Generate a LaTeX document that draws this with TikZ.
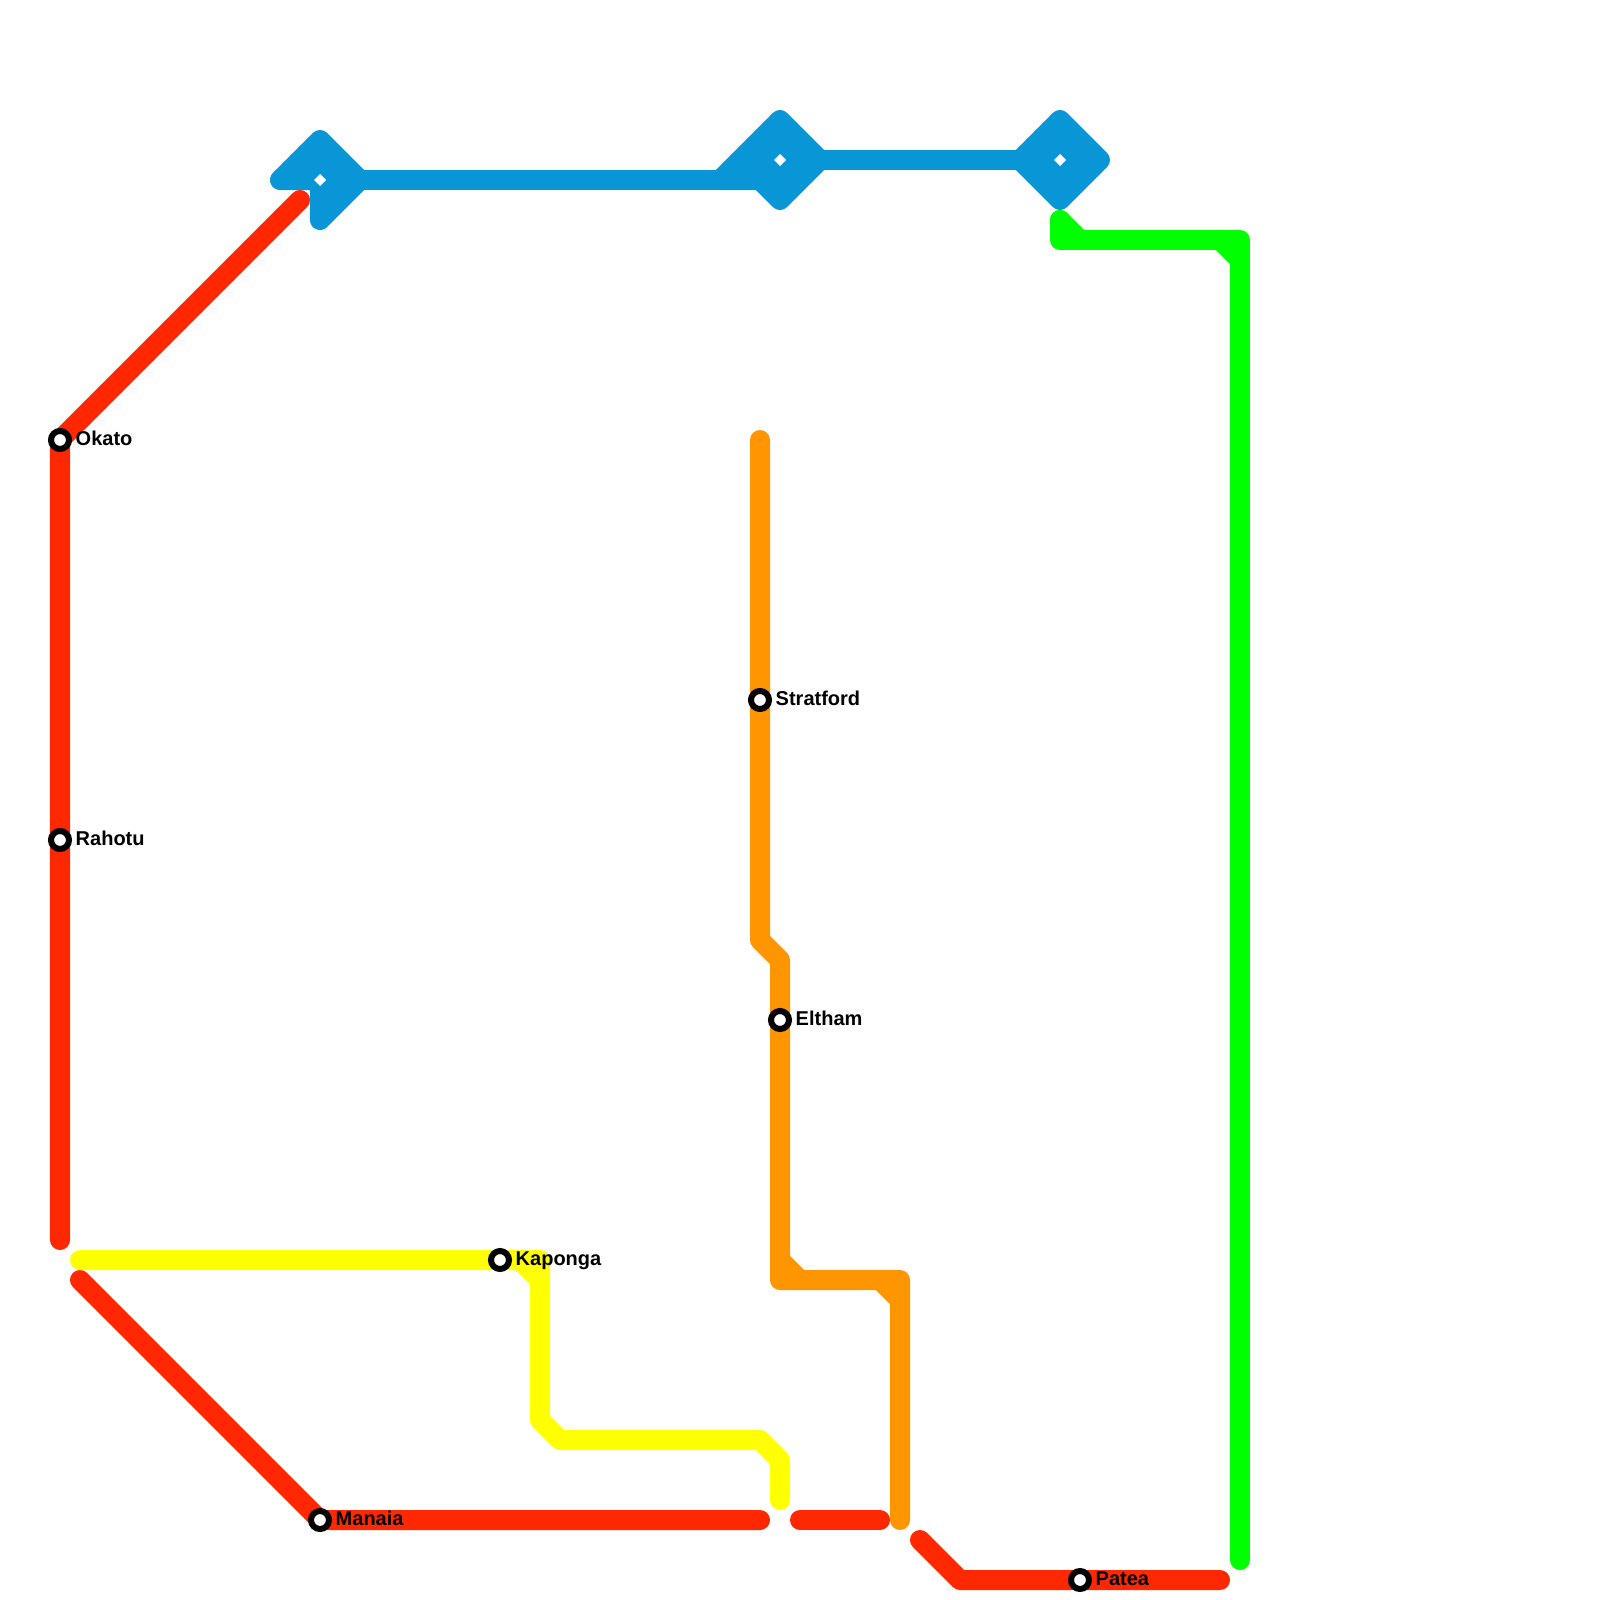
\documentclass[tikz,border=0pt]{standalone}
\usepackage{fontspec}
\setmainfont{Liberation Sans}
\definecolor{lblue}{HTML}{0896D7}
\definecolor{lred}{HTML}{FF2800}
\definecolor{lorange}{HTML}{FF9500}
\definecolor{lyellow}{HTML}{FFFF00}
\definecolor{lgreen}{HTML}{00FF00}
\tikzset{
  metro/.style={line width=5.69pt,line cap=round,line join=round},
  hub/.style={metro,draw=lblue,fill=lblue},
  hole/.style={fill=white},
  stationdot/.style={circle,draw=black,fill=white,line width=1.71pt,outer sep=0pt,minimum size=5.12pt,inner sep=0pt},
  stationtext/.style={anchor=base west,inner sep=0pt,font=\bfseries\fontsize{5.69pt}{6pt}\selectfont,text=black}
}
\begin{document}
\begin{tikzpicture}[x=0.01cm,y=-0.01cm]
\useasboundingbox (0,0) rectangle (1600,1600);
% named points
\coordinate (hubA) at (320,180);
\coordinate (hubB) at (780,160);
\coordinate (hubC) at (1060,160);
\coordinate (okatoPt) at (60,440);
\coordinate (rahotuPt) at (60,840);
\coordinate (manaiaPt) at (320,1520);
\coordinate (patPt) at (1080,1580);
\coordinate (kapPt) at (500,1260);
\coordinate (strPt) at (760,700);
\coordinate (eltPt) at (780,1020);
% blue
\draw[hub] (280,180) -- (320,140) -- (360,180) -- (320,220) -- (320,180) -- cycle;
\draw[hub] (720,180) -- (780,120) -- (820,160) -- (780,200) -- (760,180) -- cycle;
\draw[hub] (1060,120) -- (1100,160) -- (1060,200) -- (1020,160) -- cycle;
\draw[metro,lblue] (hubA) -- (720,180);
\draw[metro,lblue] (hubB) -- (hubC);
\fill[hole] (314,180) -- (320,174) -- (326,180) -- (320,186) -- cycle;
\fill[hole] (774,160) -- (780,154) -- (786,160) -- (780,166) -- cycle;
\fill[hole] (1054,160) -- (1060,154) -- (1066,160) -- (1060,166) -- cycle;
% red
\draw[metro,lred] (300,200) -- (okatoPt) -- (rahotuPt) -- (60,1240);
\draw[metro,lred] (80,1280) -- (manaiaPt) -- (760,1520);
\draw[metro,lred] (800,1520) -- (880,1520);
\draw[metro,lred] (920,1540) -- (960,1580) -- (patPt) -- (1220,1580);
% yellow
\draw[metro,lyellow] (80,1260) -- (kapPt) -- (540,1260) -- (540,1420) -- (560,1440) -- (760,1440) -- (780,1460) -- (780,1500);
\draw[metro,lyellow] (520,1260) -- (540,1280);
% orange
\draw[metro,lorange] (760,440) -- (strPt) -- (760,940) -- (780,960) -- (eltPt) -- (780,1280) -- (900,1280) -- (900,1520);
\draw[metro,lorange] (780,1260) -- (800,1280);
\draw[metro,lorange] (880,1280) -- (900,1300);
% green
\draw[metro,lgreen] (1060,220) -- (1060,240) -- (1240,240) -- (1240,1560);
\draw[metro,lgreen] (1060,220) -- (1080,240);
\draw[metro,lgreen] (1220,240) -- (1240,260);
% stations
\node[stationdot] (okato) at (okatoPt) {};
\node[stationdot] (rahotu) at (rahotuPt) {};
\node[stationdot] (manaia) at (manaiaPt) {};
\node[stationdot] (patea) at (patPt) {};
\node[stationdot] (kaponga) at (kapPt) {};
\node[stationdot] (stratford) at (strPt) {};
\node[stationdot] (eltham) at (eltPt) {};
\node[stationtext] (okatoL) at (75,445.5) {Okato};
\node[stationtext] (rahotuL) at (75,845.5) {Rahotu};
\node[stationtext] (manaiaL) at (335,1525.5) {Manaia};
\node[stationtext] (pateaL) at (1095,1585.5) {Patea};
\node[stationtext] (kapongaL) at (515,1265.5) {Kaponga};
\node[stationtext] (stratfordL) at (775,705.5) {Stratford};
\node[stationtext] (elthamL) at (795,1025.5) {Eltham};
\end{tikzpicture}
\end{document}
